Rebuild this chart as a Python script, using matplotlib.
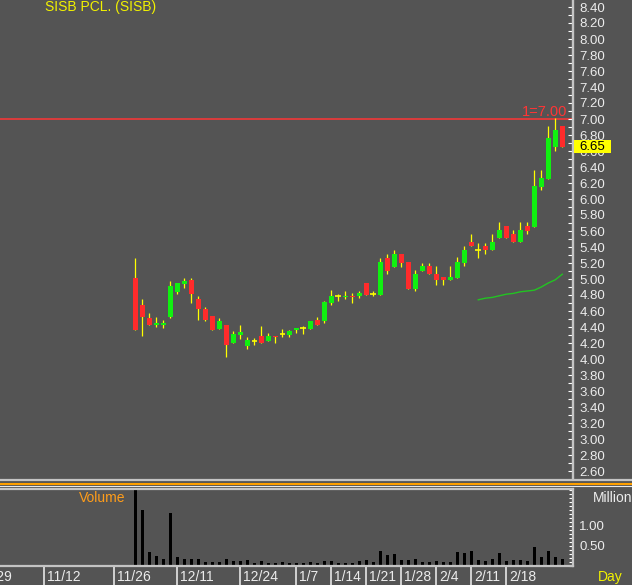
import matplotlib
matplotlib.use('Agg')
import matplotlib.pyplot as plt
from matplotlib.lines import Line2D
from matplotlib.patches import Rectangle
from matplotlib.ticker import MultipleLocator, FormatStrFormatter, FixedLocator

# -------------------------------------------------------------------------------
# Data (trading day index, 0 = first session)

opens = [5.01, 4.68, 4.51, 4.42, 4.43, 4.52, 4.84, 4.94, 4.99, 4.75,
         4.63, 4.54, 4.38, 4.43, 4.20, 4.30, 4.16, 4.23, 4.29, 4.22,
         4.29, 4.31, 4.30, 4.36, 4.39, 4.38, 4.49, 4.47, 4.70, 4.79,
         4.77, 4.79, 4.79, 4.95, 4.81, 4.80, 5.26, 5.15, 5.31, 5.21,
         4.88, 5.10, 5.16, 5.06, 5.02, 4.99, 5.01, 5.20, 5.46, 5.36,
         5.41, 5.36, 5.51, 5.66, 5.56, 5.46, 5.66, 5.65, 6.15, 6.25,
         6.65, 6.91]
highs = [5.26, 4.75, 4.58, 4.53, 4.49, 4.97, 4.95, 5.01, 5.01, 4.79,
         4.65, 4.54, 4.51, 4.43, 4.35, 4.43, 4.27, 4.26, 4.41, 4.33,
         4.29, 4.37, 4.36, 4.39, 4.41, 4.47, 4.52, 4.73, 4.86, 4.81,
         4.85, 4.83, 4.85, 4.95, 4.85, 5.26, 5.31, 5.36, 5.31, 5.21,
         5.11, 5.20, 5.20, 5.16, 5.02, 5.16, 5.27, 5.41, 5.56, 5.45,
         5.45, 5.56, 5.71, 5.66, 5.61, 5.71, 5.71, 6.36, 6.36, 6.91,
         7.01, 6.91]
lows = [4.36, 4.29, 4.43, 4.40, 4.39, 4.51, 4.81, 4.89, 4.70, 4.49,
        4.47, 4.36, 4.37, 4.03, 4.20, 4.25, 4.12, 4.17, 4.20, 4.22,
        4.20, 4.27, 4.27, 4.33, 4.31, 4.38, 4.43, 4.45, 4.67, 4.73,
        4.75, 4.70, 4.76, 4.80, 4.79, 4.80, 5.06, 5.15, 5.15, 4.88,
        4.85, 5.10, 5.06, 4.93, 4.93, 4.99, 5.01, 5.16, 5.41, 5.26,
        5.31, 5.36, 5.51, 5.51, 5.46, 5.46, 5.56, 5.65, 6.11, 6.25,
        6.60, 6.65]
closes = [4.36, 4.53, 4.43, 4.45, 4.45, 4.91, 4.95, 4.98, 4.81, 4.63,
          4.49, 4.36, 4.47, 4.17, 4.31, 4.34, 4.24, 4.23, 4.20, 4.29,
          4.27, 4.31, 4.35, 4.39, 4.39, 4.47, 4.43, 4.71, 4.79, 4.79,
          4.79, 4.77, 4.83, 4.80, 4.81, 5.21, 5.10, 5.31, 5.20, 4.88,
          5.06, 5.16, 5.06, 4.99, 4.99, 5.02, 5.21, 5.36, 5.41, 5.36,
          5.36, 5.46, 5.61, 5.51, 5.46, 5.61, 5.60, 6.16, 6.26, 6.76,
          6.86, 6.65]

# volume in millions of shares
volumes = [1.90, 1.38, 0.33, 0.23, 0.17, 1.32, 0.21, 0.16, 0.17, 0.16,
           0.09, 0.09, 0.09, 0.16, 0.11, 0.11, 0.13, 0.07, 0.11, 0.07,
           0.07, 0.09, 0.06, 0.07, 0.07, 0.09, 0.07, 0.11, 0.11, 0.07,
           0.07, 0.07, 0.11, 0.15, 0.08, 0.36, 0.26, 0.28, 0.15, 0.15,
           0.17, 0.09, 0.08, 0.12, 0.08, 0.08, 0.33, 0.32, 0.36, 0.15,
           0.12, 0.17, 0.32, 0.12, 0.13, 0.15, 0.11, 0.46, 0.21, 0.37,
           0.22, 0.16]

# moving average line (starts at day 49)
ma_start = 49
ma_values = [4.74, 4.76, 4.77, 4.79, 4.81, 4.82, 4.84, 4.85, 4.86,
             4.90, 4.95, 4.99, 5.06]

date_labels = ['10/29', '11/12', '11/26', '12/11', '12/24', '1/7', '1/14',
               '1/21', '1/28', '2/4', '2/11', '2/18']
date_pos = [-23, -13, -3, 6, 15, 23, 28, 33, 38, 43, 48, 53]

alert_price = 7.00
last_price = 6.65

# -------------------------------------------------------------------------------
BG = '#545454'
RED = '#ff2b2b'
GREEN = '#10f010'
WICK = '#ffff00'
AXIS = '#c4c4c4'
TXT = '#ececec'
FONT = 'Liberation Sans'
plt.rcParams['font.family'] = [FONT, 'DejaVu Sans']

W, H = 632, 585
fig = plt.figure(figsize=(W / 100, H / 100), dpi=100, facecolor=BG)

def fx(px):
	return px / W

def fy(py):
	return 1 - py / H

X0, X1 = -19.33, 62.53

# ------------------------------------------------------------------------------- price panel
ax = fig.add_axes([0, fy(478), fx(573), 478 / H])
ax.set_facecolor(BG)
ax.set_xlim(X0, X1)
ax.set_ylim(7 - 359 / 80, 7 + 119 / 80)

days = list(range(len(opens)))
ax.vlines(days, lows, highs, color=WICK, lw=0.9, zorder=2)
for i in days:
	o, c = opens[i], closes[i]
	if abs(c - o) < 0.005:
		ax.hlines(o, i - 0.4, i + 0.4, color=WICK, lw=1.2, zorder=3)
	else:
		col = GREEN if c > o else RED
		ax.bar(i, abs(c - o), bottom=min(o, c), width=0.7, color=col,
		       lw=0, zorder=3)

ax.plot(range(ma_start, ma_start + len(ma_values)), ma_values,
        color='#22c422', lw=1.0, zorder=2)
ax.axhline(alert_price, color='#ff3535', lw=1.1, zorder=1)

for s in ['left', 'top', 'bottom']:
	ax.spines[s].set_visible(False)
ax.spines['right'].set_color(AXIS)
ax.spines['right'].set_linewidth(1.7)
ax.set_xticks([])
ax.yaxis.tick_right()
ax.yaxis.set_major_locator(MultipleLocator(0.2))
ax.yaxis.set_minor_locator(MultipleLocator(0.1))
ax.yaxis.set_major_formatter(FormatStrFormatter('%.2f'))
ax.tick_params(axis='y', which='both', direction='in', length=3.5, width=0.8,
               color='white', pad=4.5, labelsize=9.5, labelcolor=TXT)

# ------------------------------------------------------------------------------- volume panel
vax = fig.add_axes([0, fy(565.5), fx(573), 77 / H])
vax.set_facecolor(BG)
vax.set_xlim(X0, X1)
vax.set_ylim(0, 1.925)
vax.bar(days, volumes, width=0.5, color='black', lw=0)
vax.spines['left'].set_visible(False)
for s in ['right', 'top', 'bottom']:
	vax.spines[s].set_color(AXIS)
	vax.spines[s].set_linewidth(1.6)
vax.set_xticks([])
vax.yaxis.tick_right()
vax.yaxis.set_major_locator(FixedLocator([0.5, 1.0]))
vax.yaxis.set_minor_locator(MultipleLocator(0.1))
vax.yaxis.set_major_formatter(FormatStrFormatter('%.2f'))
vax.tick_params(axis='y', which='both', direction='in', length=3, width=0.8,
                color='white', pad=4.5, labelsize=9.5, labelcolor=TXT)

# ------------------------------------------------------------------------------- date row
dax = fig.add_axes([0, 0, fx(573), fy(566.5)])
dax.set_xlim(X0, X1)
dax.set_ylim(0, 1)
dax.axis('off')
dax.vlines(date_pos, 0, 1, color='#e6e6e6', lw=1.2)
for p, lab in zip(date_pos, date_labels):
	dax.text(p + 0.4, 0.42, lab, color=TXT, fontsize=10, ha='left', va='center')

# ------------------------------------------------------------------------------- panel separators
def hline(py, x0, x1, color, lw):
	fig.add_artist(Line2D([fx(x0), fx(x1)], [fy(py), fy(py)], color=color,
	                      lw=lw, transform=fig.transFigure))

hline(479.5, 0, W, AXIS, 1.6)
hline(484, 0, W, '#ffa000', 1.5)
hline(486, 0, W, '#e8e8e8', 0.8)

# ------------------------------------------------------------------------------- texts
fig.text(fx(45), fy(6.5), 'SISB PCL. (SISB)', color='#f2f200', fontsize=10,
         ha='left', va='center')
fig.text(fx(567), fy(116), '1=7.00', color='#ff3535', fontsize=10.5,
         ha='right', va='baseline')
fig.add_artist(Rectangle((fx(573.5), fy(153)), fx(37), 13 / H, facecolor='#ffff00',
                         edgecolor='none', transform=fig.transFigure))
fig.text(fx(579), fy(146.5), '%.2f' % last_price, color='black', fontsize=9.5,
         ha='left', va='center')
fig.text(fx(125), fy(498), 'Volume', color='#ff9d1a', fontsize=10,
         ha='right', va='center')
fig.text(fx(593), fy(498), 'Million', color=TXT, fontsize=10,
         ha='left', va='center')
fig.text(fx(598), fy(577), 'Day', color='#f2f200', fontsize=10,
         ha='left', va='center')

fig.savefig('out.png', dpi=100, facecolor=BG)
